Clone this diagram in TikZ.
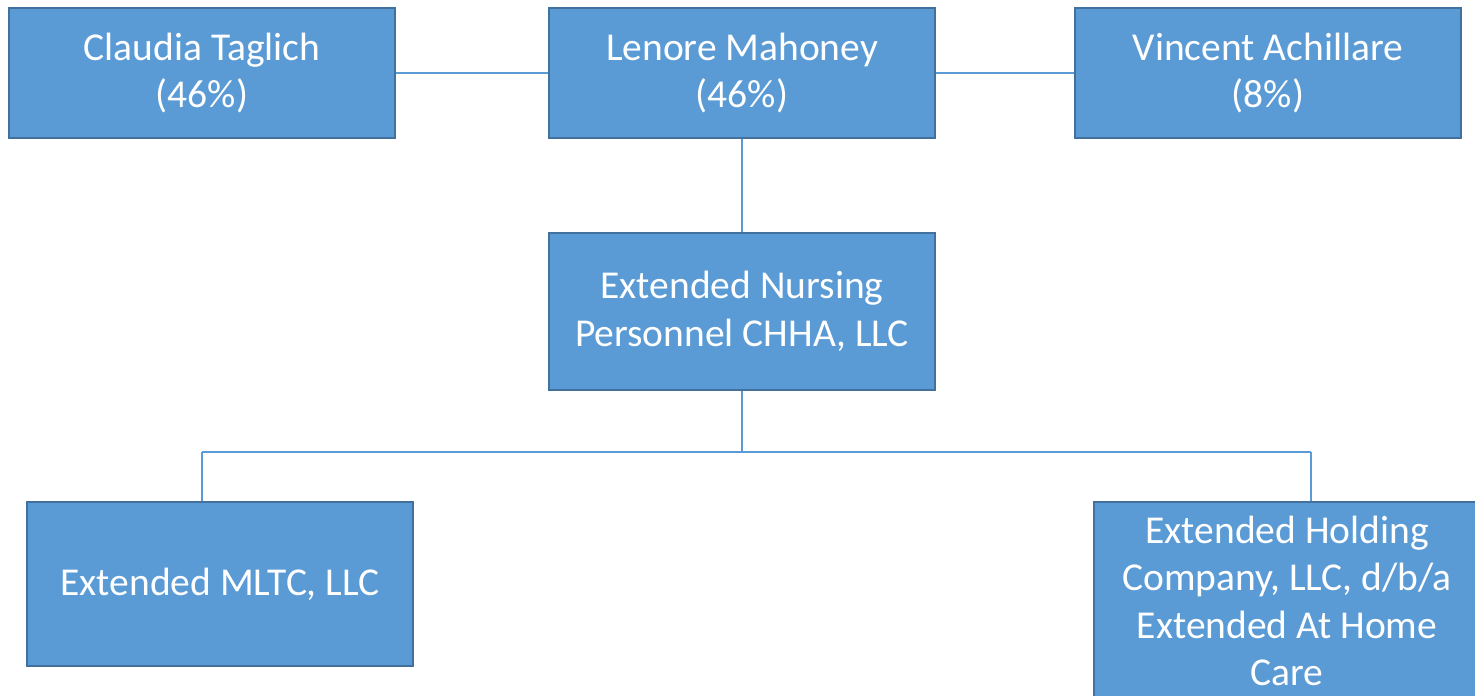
\documentclass[tikz,border=0pt]{standalone}
\usepackage{fontspec}
\setmainfont{Carlito}
\definecolor{boxc}{HTML}{5B9BD5}
\definecolor{bordc}{HTML}{41719C}
\begin{document}
\begin{tikzpicture}[x=1pt,y=-1pt,
  box/.style={draw=bordc, line width=2pt, fill=boxc, text=white, minimum width=386pt,
    align=center, inner sep=0pt, font=\fontsize{39.5}{47.5}\selectfont},
  conn/.style={draw=boxc, line width=1.6pt}]
\useasboundingbox (0,0) rectangle (1475,696);
\node[box, minimum height=130pt] (clau) at (202,73) {Claudia Taglich\\(46\%)};
\node[box, minimum height=130pt] (len) at (742,73) {Lenore Mahoney\\(46\%)};
\node[box, minimum height=130pt] (vin) at (1268,73) {Vincent Achillare\\(8\%)};
\node[box, minimum height=157pt] (nurs) at (742,311.5) {Extended Nursing\\Personnel CHHA, LLC};
\node[box, minimum height=164pt] (mltc) at (220,584) {Extended MLTC, LLC};
\node[box, minimum height=198pt] (hold) at (1287,601) {Extended Holding\\Company, LLC, d/b/a\\Extended At Home\\Care};
\coordinate (j) at (742,452);
\coordinate (jl) at (202,452);
\coordinate (jr) at (1311,452);
\draw[conn] (clau) -- (len);
\draw[conn] (len) -- (vin);
\draw[conn] (len) -- (nurs);
\draw[conn] (nurs) -- (j);
\draw[conn] (jl) -- (jr);
\draw[conn] (jl) -- (jl |- mltc.north);
\draw[conn] (jr) -- (jr |- hold.north);
\end{tikzpicture}
\end{document}
